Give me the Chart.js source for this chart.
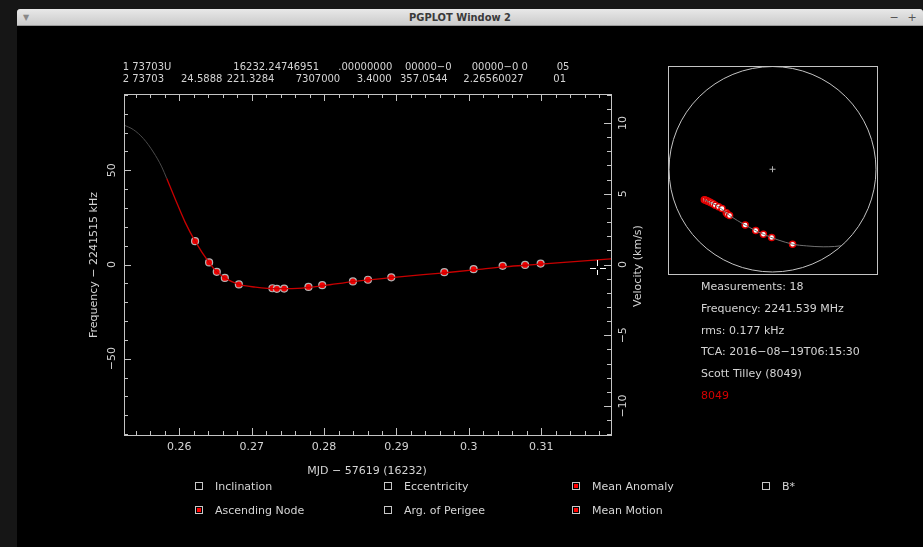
<!DOCTYPE html>
<html>
<head>
<meta charset="utf-8">
<title>PGPLOT Window 2</title>
<script src="https://cdn.jsdelivr.net/npm/chart.js@4.4.0/dist/chart.umd.min.js"></script>
<style>
  body { margin:0; width:923px; height:547px; background:#161616; overflow:hidden; position:relative; font-family:"DejaVu Sans", sans-serif; }
  #ventana { position:absolute; left:17px; top:9px; width:906px; height:538px; background:#000; }
  #barra { position:absolute; left:17px; top:9px; width:906px; height:17px; background:linear-gradient(#e8e8e8,#cbcbcb); border-radius:3px 3px 0 0; border-bottom:1px solid #9a9a9a; box-sizing:border-box; }
  #titulo { position:absolute; left:460px; top:17px; transform:translate(-50%,-50%); font-family:"Liberation Sans Narrow","DejaVu Sans Condensed",sans-serif; font-weight:bold; font-size:11px; color:#3a3a3a; white-space:nowrap; }
  .boton { position:absolute; top:17px; transform:translate(-50%,-50%); font-size:11px; color:#555; }
  canvas { position:absolute; }
  #grafico { left:0; top:0; }
  #cielo { left:660px; top:60px; }
  .txt { position:absolute; color:#d4d4d4; font-size:11px; white-space:nowrap; line-height:1; transform:translateY(-50%); }
  .tle { font-size:10px; }
  .caja { position:absolute; width:6px; height:6px; border:1px solid #c8c8c8; transform:translate(-50%,-50%); }
  .caja.on::after { content:""; position:absolute; left:1px; top:1px; width:4px; height:4px; background:#f00; }
  .cur { position:absolute; background:#fff; }
</style>
</head>
<body>
<div id="ventana"></div>
<div id="barra"></div>
<div id="titulo">PGPLOT Window 2</div>
<div class="boton" style="left:26px;font-size:8px;color:#888">▼</div>
<div class="boton" style="left:894px">−</div>
<div class="boton" style="left:912px">+</div>
<canvas id="grafico" width="660" height="547"></canvas>
<canvas id="cielo" width="230" height="220"></canvas>
<div id="textos"></div>
<script>
// medidas (MJD - 57619, kHz)
const puntosX = [0.26217, 0.26411, 0.26517, 0.26628, 0.26822, 0.27286, 0.27347, 0.27448, 0.27784, 0.27974, 0.28398, 0.28606, 0.28928, 0.29661, 0.30066, 0.30467, 0.30777, 0.30992];
const puntosY = [12.4, 1.1, -3.9, -7.1, -10.6, -12.6, -12.9, -12.8, -11.9, -11.0, -9.0, -8.1, -6.8, -4.1, -2.5, -0.7, -0.2, 0.5];

// curva del modelo
const curvaGrisX = [0.25235, 0.25364, 0.25502, 0.25640, 0.25757, 0.25826];
const curvaGrisY = [74.0, 71.6, 66.9, 59.7, 51.8, 45.6];
const curvaRojaX = [0.25826, 0.25941, 0.26079, 0.26217, 0.26411, 0.26517, 0.26628, 0.26822, 0.2705, 0.2735, 0.2770, 0.2800, 0.2840, 0.2893, 0.2966, 0.3007, 0.3047, 0.3078, 0.3099, 0.31964];
const curvaRojaY = [45.6, 34.9, 22.5, 12.4, 1.0, -3.9, -7.1, -10.6, -12.0, -12.8, -12.5, -11.2, -9.1, -7.0, -4.4, -2.9, -1.3, -0.4, 0.2, 3.0];

const xTicks = [0.26, 0.27, 0.28, 0.29, 0.3, 0.31];
const xTickLabels = ["0.26", "0.27", "0.28", "0.29", "0.3", "0.31"];
const freqTicks = [-50, 0, 50];
const freqTickLabels = ["\u221250", "0", "50"];
const velTicks = [-10, -5, 0, 5, 10];
const velTickLabels = ["\u221210", "\u22125", "0", "5", "10"];

// traza en el cielo
const trazaX = [-0.659, -0.650, -0.633, -0.625, -0.608, -0.594, -0.575, -0.553, -0.521, -0.488, -0.447, -0.435, -0.415, -0.264, -0.162, -0.088, -0.008, 0.194];
const trazaY = [-0.296, -0.300, -0.306, -0.311, -0.318, -0.325, -0.335, -0.351, -0.366, -0.383, -0.424, -0.437, -0.450, -0.543, -0.597, -0.633, -0.664, -0.729];
const lineaX = [-0.659, -0.521, -0.415, -0.264, -0.088, 0.194, 0.33, 0.49, 0.60, 0.665];
const lineaY = [-0.296, -0.366, -0.450, -0.543, -0.633, -0.729, -0.746, -0.755, -0.752, -0.745];

const tle1 = [["1 73703U", 122.7], ["16232.24746951", 233.3], [".00000000", 338.3], ["00000\u22120", 405], ["00000\u22120 0", 471.7], ["05", 556.7]];
const tle2 = [["2 73703", 122.7], ["24.5888", 181], ["221.3284", 226.7], ["7307000", 295.7], ["3.4000", 356.7], ["357.0544", 400], ["2.26560027", 463.3], ["01", 553.3]];

const info = ["Measurements: 18", "Frequency: 2241.539 MHz", "rms: 0.177 kHz", "TCA: 2016\u221208\u221219T06:15:30", "Scott Tilley (8049)", "8049"];

const opciones = [
    ["Inclination", 199, 486, false], ["Eccentricity", 388, 486, false], ["Mean Anomaly", 576, 486, true], ["B*", 766, 486, false],
    ["Ascending Node", 199, 510, true], ["Arg. of Perigee", 388, 510, false], ["Mean Motion", 576, 510, true]
];

function aPuntos(xs, ys) {
    return xs.map((x, i) => ({ x: x, y: ys[i] }));
}

const capa = document.getElementById("textos");
function texto(str, x, y, color, clase) {
    const d = document.createElement("div");
    d.className = "txt" + (clase ? " " + clase : "");
    d.textContent = str;
    d.style.left = x + "px";
    d.style.top = y + "px";
    if (color) d.style.color = color;
    capa.appendChild(d);
}

tle1.forEach(t => texto(t[0], t[1], 67, null, "tle"));
tle2.forEach(t => texto(t[0], t[1], 78.5, null, "tle"));
info.forEach((t, i) => texto(t, 701, 286 + i * 21.8, i == 5 ? "#d40000" : null));
opciones.forEach(o => {
    const c = document.createElement("div");
    c.className = "caja" + (o[3] ? " on" : "");
    c.style.left = o[1] + "px";
    c.style.top = o[2] + "px";
    capa.appendChild(c);
    texto(o[0], o[1] + 16, o[2]);
});

// cursor del raton
[[590, 268, 6, 1], [600, 268, 6, 1], [597, 260, 1, 6], [597, 270, 1, 5]].forEach(r => {
    const c = document.createElement("div");
    c.className = "cur";
    c.style.left = r[0] + "px"; c.style.top = r[1] + "px";
    c.style.width = r[2] + "px"; c.style.height = r[3] + "px";
    capa.appendChild(c);
});

const colorEje = "#c4c4c4";
const colorTexto = "#d4d4d4";
const fuente = '11px "DejaVu Sans"';

const marco = {
    id: "marco",
    afterDatasetsDraw(chart) {
        const ctx = chart.ctx;
        const a = chart.chartArea;
        const sx = chart.scales.x, sy = chart.scales.y, sv = chart.scales.vel;
        ctx.save();
        ctx.strokeStyle = colorEje;
        ctx.lineWidth = 1;
        ctx.strokeRect(Math.round(a.left) + 0.5, Math.round(a.top) + 0.5, Math.round(a.right - a.left), Math.round(a.bottom - a.top));
        ctx.beginPath();
        for (let i = 0; i <= 40; i++) {
            const val = 0.25 + i * 0.002;
            if (val < sx.min || val > sx.max) continue;
            const px = Math.round(sx.getPixelForValue(val)) + 0.5;
            const l = i % 5 == 0 ? 7 : 4;
            ctx.moveTo(px, a.bottom); ctx.lineTo(px, a.bottom - l);
            ctx.moveTo(px, a.top); ctx.lineTo(px, a.top + l);
        }
        for (let i = -9; i <= 9; i++) {
            const py = Math.round(sy.getPixelForValue(i * 10)) + 0.5;
            const l = i % 5 == 0 ? 7 : 4;
            ctx.moveTo(a.left, py); ctx.lineTo(a.left + l, py);
        }
        for (let i = -12; i <= 12; i++) {
            const py = Math.round(sv.getPixelForValue(i)) + 0.5;
            const l = i % 5 == 0 ? 7 : 4;
            ctx.moveTo(a.right, py); ctx.lineTo(a.right - l, py);
        }
        ctx.stroke();

        ctx.fillStyle = colorTexto;
        ctx.font = fuente;
        ctx.textAlign = "center";
        ctx.textBaseline = "middle";
        xTicks.forEach((t, i) => ctx.fillText(xTickLabels[i], sx.getPixelForValue(t), 447));
        ctx.fillText("MJD \u2212 57619 (16232)", 367, 471);

        function vertical(str, x, y) {
            ctx.save();
            ctx.translate(x, y);
            ctx.rotate(-Math.PI / 2);
            ctx.fillText(str, 0, 0);
            ctx.restore();
        }
        freqTicks.forEach((t, i) => vertical(freqTickLabels[i], 112, sy.getPixelForValue(t)));
        velTicks.forEach((t, i) => vertical(velTickLabels[i], 623, sv.getPixelForValue(t)));
        vertical("Frequency \u2212 2241515 kHz", 94, 265);
        vertical("Velocity (km/s)", 638, 266);
        ctx.restore();
    }
};

new Chart(document.getElementById("grafico"), {
    type: "line",
    data: {
        datasets: [
            { data: aPuntos(curvaGrisX, curvaGrisY), borderColor: "#4a4a4a", borderWidth: 1, pointRadius: 0, cubicInterpolationMode: "monotone" },
            { data: aPuntos(curvaRojaX, curvaRojaY), borderColor: "#c80000", borderWidth: 1.3, pointRadius: 0, cubicInterpolationMode: "monotone" },
            { data: aPuntos(puntosX, puntosY), showLine: false, pointRadius: 3.5, pointBackgroundColor: "#f00000", pointBorderColor: "#b4b4b4", pointBorderWidth: 1.2 }
        ]
    },
    options: {
        responsive: false,
        animation: false,
        layout: { padding: { left: 124, top: 94, right: 49, bottom: 112 } },
        plugins: { legend: { display: false }, tooltip: { enabled: false } },
        scales: {
            x: { type: "linear", min: 0.25235, max: 0.31964, display: false },
            y: { type: "linear", min: -90.5, max: 90.5, display: false },
            vel: { type: "linear", position: "right", min: -12.05, max: 12.05, display: false }
        }
    },
    plugins: [marco]
});

const circulo = {
    id: "circulo",
    beforeDatasetsDraw(chart) {
        const ctx = chart.ctx;
        const a = chart.chartArea;
        const sx = chart.scales.x, sy = chart.scales.y;
        ctx.save();
        ctx.strokeStyle = colorEje;
        ctx.lineWidth = 1;
        ctx.strokeRect(Math.round(a.left) + 0.5, Math.round(a.top) + 0.5, Math.round(a.right - a.left), Math.round(a.bottom - a.top));
        const cx = sx.getPixelForValue(0), cy = sy.getPixelForValue(0);
        ctx.beginPath();
        ctx.ellipse(cx, cy, sx.getPixelForValue(1) - cx, cy - sy.getPixelForValue(1), 0, 0, Math.PI * 2);
        ctx.stroke();
        ctx.restore();
    }
};

new Chart(document.getElementById("cielo"), {
    type: "line",
    data: {
        datasets: [
            { data: aPuntos(lineaX, lineaY), borderColor: "#707070", borderWidth: 1, pointRadius: 0, cubicInterpolationMode: "monotone" },
            { data: aPuntos(trazaX, trazaY), showLine: false, pointRadius: 3, pointBackgroundColor: "#ffffff", pointBorderColor: "#e00000", pointBorderWidth: 1.5 },
            { data: [{ x: 0, y: 0 }], showLine: false, pointStyle: "cross", pointRadius: 3, pointBorderColor: "#b0b0b0", pointBorderWidth: 1 }
        ]
    },
    options: {
        responsive: false,
        animation: false,
        layout: { padding: { left: 8, top: 5, right: 13, bottom: 7 } },
        plugins: { legend: { display: false }, tooltip: { enabled: false } },
        scales: {
            x: { type: "linear", min: -1.01, max: 1.01, display: false },
            y: { type: "linear", min: -1.01, max: 1.01, display: false }
        }
    },
    plugins: [circulo]
});
</script>
</body>
</html>
